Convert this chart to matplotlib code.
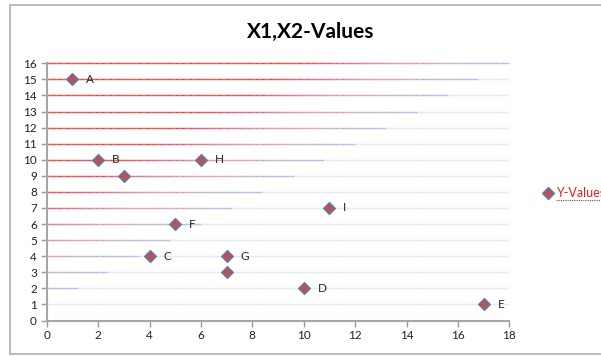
import matplotlib.pyplot as plt
import numpy as np
from matplotlib.collections import LineCollection
from matplotlib.lines import Line2D

plt.rcParams['font.family'] = ['Lato', 'DejaVu Sans']

# Datos del gráfico
x_vals = [1, 2, 3, 6, 5, 4, 7, 7, 11, 10, 17]
y_vals = [15, 10, 9, 10, 6, 4, 4, 3, 7, 2, 1]
etiquetas = ['A', 'B', '', 'H', 'F', 'C', 'G', '', 'I', 'D', 'E']
y_ticks = list(range(0, 17))
x_ticks = list(range(0, 19, 2))

rojo = np.array([232, 40, 50]) / 255
rosa = np.array([218, 140, 170]) / 255
azul = np.array([160, 185, 230]) / 255
azul_claro = np.array([222, 231, 246]) / 255

fig = plt.figure(figsize=(6.01, 3.56), dpi=100)
ax = fig.add_axes([46.7 / 601, 1 - 320.5 / 356, (509.3 - 46.7) / 601, (320.5 - 63.3) / 356])

# Líneas de cuadrícula con degradado diagonal (rojo arriba-izquierda, azul abajo-derecha)
xs = np.linspace(0, 18, 400)
for yv in y_ticks[1:]:
    xb = 1.2 * (yv - 1)
    segs = []
    cols = []
    for a, b in zip(xs[:-1], xs[1:]):
        xm = (a + b) / 2
        d = xb - xm
        if d > 0:
            f = min(d / 8.0, 1.0)
            if f < 0.5:
                c = azul + (rosa - azul) * (f / 0.5)
            else:
                c = rosa + (rojo - rosa) * ((f - 0.5) / 0.5)
        else:
            c = azul_claro
        segs.append([(a, yv), (b, yv)])
        cols.append(c)
    ax.add_collection(LineCollection(segs, colors=cols, linewidths=1.0,
                                     zorder=1, clip_on=False))

ax.scatter(x_vals, y_vals, marker='D', s=36, facecolor='#C0504D',
           edgecolor='#4F81BD', linewidths=1.0, zorder=3, clip_on=False)
for x, y, t in zip(x_vals, y_vals, etiquetas):
    if t:
        ax.annotate(t, (x, y), xytext=(10, 0), textcoords='offset points',
                    va='center', ha='left', fontsize=8.5, color='#222222')

ax.set_xlim(0, 18)
ax.set_ylim(0, 16)
ax.set_xticks(x_ticks)
ax.set_yticks(y_ticks)
ax.tick_params(axis='both', labelsize=8.5, length=4, width=1, color='#999999',
               direction='out', labelcolor='#222222', pad=3)
for s in ['top', 'right']:
    ax.spines[s].set_visible(False)
for s in ['left', 'bottom']:
    ax.spines[s].set_color('#A6A6A6')
    ax.spines[s].set_linewidth(1.5)

fig.text(311 / 601, 1 - 32 / 356, 'X1,X2-Values', ha='center', va='center',
         fontsize=15, fontweight='bold', color='#000000')

# Leyenda
fig.add_artist(Line2D([548 / 601], [1 - 193 / 356], marker='D', markersize=6,
                      markerfacecolor='#C0504D', markeredgecolor='#4F81BD',
                      linestyle='none', transform=fig.transFigure))
fig.text(556 / 601, 1 - 193 / 356, 'Y-Values', ha='left', va='center',
         fontsize=9, color='#E02020')
fig.add_artist(Line2D([556 / 601, 601 / 601], [1 - 200 / 356] * 2, color='#E02020',
                      linestyle=(0, (1, 1)), linewidth=0.8, transform=fig.transFigure))

# Marco del área del gráfico
fig.add_artist(Line2D([10.5 / 601, 10.5 / 601, 601 / 601], [1 - 354 / 356, 1 - 5 / 356, 1 - 5 / 356],
                      color='#B0B0B0', linewidth=1.2, transform=fig.transFigure))
fig.add_artist(Line2D([10.5 / 601, 601 / 601], [1 - 354 / 356] * 2,
                      color='#B0B0B0', linewidth=1.2, transform=fig.transFigure))

fig.savefig('out.png', dpi=100)
